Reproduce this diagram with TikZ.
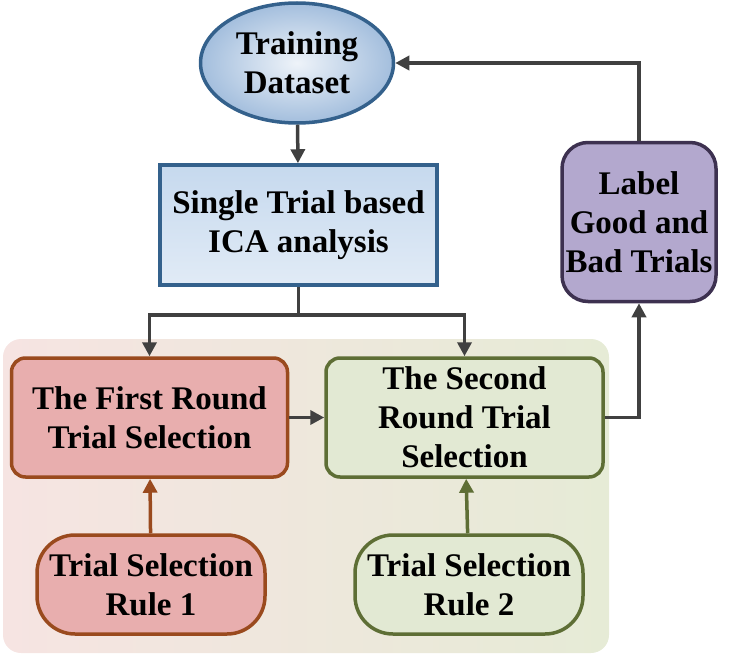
\documentclass[tikz,border=0pt]{standalone}
\usepackage{fontspec}
\setmainfont{Liberation Serif}
\usetikzlibrary{shapes.geometric,arrows.meta}
\definecolor{arrgray}{HTML}{404040}
\definecolor{blueedge}{HTML}{34618C}
\definecolor{ellin}{HTML}{EEF3F9}
\definecolor{ellout}{HTML}{A3BEDD}
\definecolor{icatop}{HTML}{C6D9EE}
\definecolor{icabot}{HTML}{E1EBF6}
\definecolor{bgleft}{HTML}{F6E4E2}
\definecolor{bgright}{HTML}{E6EBD6}
\definecolor{redfill}{HTML}{E8AEAE}
\definecolor{rededge}{HTML}{9A4A1E}
\definecolor{greenfill}{HTML}{E2E9D3}
\definecolor{greenedge}{HTML}{5E6E35}
\definecolor{purplefill}{HTML}{B3A8CE}
\definecolor{purpleedge}{HTML}{3D3150}
\tikzset{
  txt/.style={font=\fontsize{33}{39}\selectfont\bfseries, align=center, inner sep=0pt, text=black},
  arr/.style={draw=arrgray, line width=3.5pt, -{Triangle[length=14pt,width=14pt]}},
  redbox/.style={txt, draw=rededge, line width=3.5pt, fill=redfill},
  greenbox/.style={txt, draw=greenedge, line width=3.5pt, fill=greenfill},
}
\begin{document}
\begin{tikzpicture}[x=1pt,y=-1pt]
\useasboundingbox (0,0) rectangle (733,658);
% background panel
\shade[rounded corners=18pt, left color=bgleft, right color=bgright]
  (3,339) rectangle (609,653);
\node[txt, ellipse, draw=blueedge, line width=3.5pt, inner color=ellin, outer color=ellout,
  minimum width=193pt, minimum height=120pt] (train) at (297,63) {Training\\Dataset};
\node[txt, rectangle, draw=blueedge, line width=3.5pt, top color=icatop, bottom color=icabot,
  minimum width=277pt, minimum height=120pt] (ica) at (298.5,225) {Single Trial based\\ICA analysis};
\node[redbox, rounded corners=14pt, minimum width=276pt, minimum height=119pt] (first) at (149.5,417.5) {The First Round\\Trial Selection};
\node[greenbox, rounded corners=14pt, minimum width=277pt, minimum height=119pt] (second) at (464.5,417.5) {The Second\\Round Trial\\Selection};
\node[redbox, rounded corners=38pt, minimum width=228pt, minimum height=99pt] (rule1) at (151,584.5) {Trial Selection\\Rule 1};
\node[greenbox, rounded corners=38pt, minimum width=228pt, minimum height=99pt] (rule2) at (469,584.5) {Trial Selection\\Rule 2};
\node[txt, draw=purpleedge, line width=3.5pt, fill=purplefill, rounded corners=26pt, minimum width=154pt, minimum height=159pt] (label) at (639,222) {Label\\Good and\\Bad Trials};
% connectors
\draw[arr] (train) -- (ica);
\draw[arr] (ica.south) -- ++(0,28) coordinate (split) -| (first.north);
\draw[arr] (split) -| (second.north);
\draw[arr] (first) -- (second);
\draw[arr, draw=rededge, fill=rededge] (rule1) -- (first);
\draw[arr, draw=greenedge, fill=greenedge] (rule2) -- (second);
\draw[arr] (second.east) -| (label.south);
\draw[arr] (label.north) |- (train.east);
\end{tikzpicture}
\end{document}
